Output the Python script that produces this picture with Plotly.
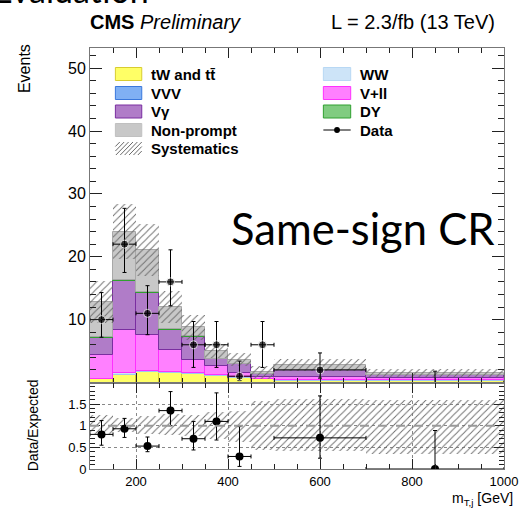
import plotly.graph_objects as go
import numpy as np

# ---------------- data ----------------
bin_lo = [100, 150, 200, 250, 300, 350, 400, 450, 500, 700]
bin_hi = [150, 200, 250, 300, 350, 400, 450, 500, 700, 1000]

tw_tt     = [0.50, 1.20, 1.60, 1.45, 1.30, 1.00, 0.70, 0.50, 0.30, 0.30]
ww        = [0.05, 0.25, 0.25, 0.20, 0.20, 0.20, 0.10, 0.10, 0.10, 0.05]
vvv       = [0.02, 0.05, 0.05, 0.05, 0.05, 0.05, 0.05, 0.03, 0.03, 0.02]
v_ll      = [3.83, 6.90, 5.70, 3.40, 2.05, 1.45, 0.60, 0.30, 0.50, 0.40]
v_gamma   = [2.60, 7.70, 6.70, 3.30, 3.70, 1.05, 1.55, 0.40, 1.00, 0.35]
dy        = [0.20, 0.15, 0.05, 0.10, 0.02, 0.02, 0.00, 0.00, 0.00, 0.00]
nonprompt = [5.60, 7.75, 6.75, 3.50, 1.48, 1.23, 0.60, 0.27, 0.87, 0.40]
syst      = [3.30, 4.40, 4.10, 2.60, 2.00, 1.10, 1.05, 1.10, 0.95, 0.60]

data_x      = [125, 175, 225, 275, 325, 375, 425, 475, 600, 850]
data_y      = [10, 22, 11, 16, 6, 6, 1, 6, 2, 0]
data_err_up = [4.3, 5.7, 4.4, 5.1, 3.7, 3.7, 2.4, 3.7, 2.7, 1.8]
data_err_dn = [2.8, 4.5, 3.4, 3.8, 3.6, 3.6, 0.7, 3.6, 1.3, 0.0]

ratio_y      = [0.80, 0.93, 0.53, 1.35, 0.70, 1.10, 0.29, None, 0.72, 0.0]
ratio_err_up = [0.32, 0.24, 0.21, 0.44, 0.40, 0.66, 0.69, None, 0.97, 0.89]
ratio_err_dn = [0.25, 0.20, 0.13, 0.35, 0.26, 0.43, 0.23, None, 0.47, 0.0]
band_hi = [1.27, 1.19, 1.24, 1.28, 1.26, 1.32, 1.36, 1.59, 1.62, 1.60]
band_lo = [0.82, 0.86, 0.82, 0.79, 0.77, 0.71, 0.64, 0.45, 0.42, 0.36]

x_ticks = [200, 400, 600, 800, 1000]
y_ticks = [10, 20, 30, 40, 50]
r_ticks = [0, 0.5, 1, 1.5]
r_ticktext = ["0", "0.5", "1", "1.5"]

# ---------------- derived ----------------
lo = np.array(bin_lo, float)
hi = np.array(bin_hi, float)
centers = (lo + hi) / 2
widths = hi - lo
data_xerr = [c - l for c, l in zip(centers, lo)]

components = [
    ("tW and tt\u0304", tw_tt, "#ffff66", "#d8cc30"),
    ("WW", ww, "#cde4f8", "#9fc8ee"),
    ("VVV", vvv, "#80b0f4", "#3a78dc"),
    ("V+ll", v_ll, "#ff80ff", "#ff30ff"),
    ("V\u03b3", v_gamma, "#b07cc8", "#7a2ea0"),
    ("DY", dy, "#80cc80", "#30a030"),
    ("Non-prompt", nonprompt, "#c8c8c8", "#a8a8a8"),
]

fig = go.Figure()
base = np.zeros(len(bin_lo))
for name, vals, fill, line in components:
    v = np.array(vals, float)
    fig.add_trace(go.Bar(x=centers, y=v, base=base.copy(), width=widths,
                         marker=dict(color=fill, line=dict(color=line, width=1)),
                         xaxis="x", yaxis="y", showlegend=False, name=name))
    base = base + v
total = base
s = np.array(syst, float)
hatch = dict(shape="/", size=5, solidity=0.18, fgcolor="#6a6a6a",
             bgcolor="rgba(0,0,0,0)", fillmode="replace")
fig.add_trace(go.Bar(x=centers, y=2 * s, base=total - s, width=widths,
                     marker=dict(color="rgba(0,0,0,0)", pattern=hatch, line=dict(width=0)),
                     xaxis="x", yaxis="y", showlegend=False))

# points sitting at zero are hidden under the frame in the upper panel
main_sizes = [8 if v > 0 else 0 for v in data_y]
fig.add_trace(go.Scatter(
    x=data_x, y=data_y, mode="markers", xaxis="x", yaxis="y", showlegend=False,
    marker=dict(color="black", size=main_sizes),
    error_y=dict(type="data", symmetric=False, array=data_err_up, arrayminus=data_err_dn,
                 color="black", thickness=1, width=2),
    error_x=dict(type="data", array=data_xerr, color="black", thickness=1, width=2)))

# ratio panel
bh = np.array(band_hi, float)
bl = np.array(band_lo, float)
fig.add_trace(go.Bar(x=centers, y=bh - bl, base=bl, width=widths,
                     marker=dict(color="rgba(0,0,0,0)", pattern=hatch, line=dict(width=0)),
                     xaxis="x2", yaxis="y2", showlegend=False))
fig.add_trace(go.Scatter(
    x=data_x, y=ratio_y, mode="markers", xaxis="x2", yaxis="y2", showlegend=False,
    marker=dict(color="black", size=8),
    error_y=dict(type="data", symmetric=False, array=ratio_err_up, arrayminus=ratio_err_dn,
                 color="black", thickness=1, width=2),
    error_x=dict(type="data", array=data_xerr, color="black", thickness=1, width=2)))

# ---------------- layout ----------------
W, H = 530, 510
L, R, T, B = 90, 514, 48, 469
split = 382.5
d = (B - split) / (B - T)

def px(x):
    return (x - L) / (R - L)

def py(y):
    return (B - y) / (B - T)

FONT = "Liberation Sans, Arial, sans-serif"
axcol = "#777"
tickcol = "#222"

common_x = dict(range=[100, 1000], showline=True, linecolor=axcol, linewidth=1,
                mirror="allticks", ticks="inside", ticklen=10, tickcolor=tickcol,
                tick0=0, dtick=200, zeroline=False,
                minor=dict(ticks="inside", dtick=50, tick0=0, ticklen=5, tickcolor=tickcol))

fig.update_layout(
    width=W, height=H, margin=dict(l=L, r=W - R, t=T, b=H - B),
    paper_bgcolor="white", plot_bgcolor="white", barmode="overlay", bargap=0,
    font=dict(family=FONT, color="black"),
    xaxis=dict(**common_x, domain=[0, 1], anchor="y", showticklabels=False,
               showgrid=False, matches="x2"),
    yaxis=dict(domain=[d, 1], range=[0, 53.2], anchor="x", showline=True, linecolor=axcol,
               mirror="allticks", ticks="inside", ticklen=12, tickcolor=tickcol,
               tickvals=y_ticks, showgrid=False, zeroline=False,
               tickfont=dict(size=16, family=FONT),
               minor=dict(ticks="inside", dtick=2, tick0=0, ticklen=6, tickcolor=tickcol)),
    xaxis2=dict(**common_x, domain=[0, 1], anchor="y2", tickvals=x_ticks,
                showgrid=True, gridcolor="#888", griddash="dot", gridwidth=1,
                tickfont=dict(size=13, family=FONT)),
    yaxis2=dict(domain=[0, d], range=[0, 2.0], anchor="x2", showline=True, linecolor=axcol,
                mirror="allticks", ticks="inside", ticklen=10, tickcolor=tickcol,
                tickvals=r_ticks, ticktext=r_ticktext, showgrid=True, gridcolor="#888",
                griddash="dot", gridwidth=1, zeroline=False,
                tickfont=dict(size=13, family=FONT),
                minor=dict(ticks="inside", dtick=0.1, tick0=0, ticklen=5, tickcolor=tickcol)),
)

# unity line in ratio panel
fig.add_shape(type="line", xref="x2", yref="y2", x0=100, x1=1000, y0=1, y1=1,
              line=dict(color="#999", width=2, dash="dash"))

ann = []
ann.append(dict(text="<b>CMS</b> <i>Preliminary</i>", x=px(88), y=py(22), xref="paper", yref="paper",
                xanchor="left", yanchor="middle", showarrow=False, font=dict(size=20, family=FONT)))
ann.append(dict(text="L = 2.3/fb (13 TeV)", x=px(507), y=py(22), xref="paper", yref="paper",
                xanchor="right", yanchor="middle", showarrow=False, font=dict(size=20, family=FONT)))
ann.append(dict(text="Events", x=px(23), y=py(42), xref="paper", yref="paper", textangle=-90,
                xanchor="center", yanchor="top", showarrow=False, font=dict(size=16, family=FONT)))
ann.append(dict(text="Data/Expected", x=px(32), y=py(425), xref="paper", yref="paper", textangle=-90,
                xanchor="center", yanchor="middle", showarrow=False, font=dict(size=14, family=FONT)))
ann.append(dict(text="m<sub>T,j</sub> [GeV]", x=px(525), y=py(499), xref="paper", yref="paper",
                xanchor="right", yanchor="middle", showarrow=False, font=dict(size=14, family=FONT)))
ann.append(dict(text="Same-sign CR", x=px(232), y=py(228), xref="paper", yref="paper",
                xanchor="left", yanchor="middle", showarrow=False, font=dict(size=43.5, family="Lato")))
ann.append(dict(text="Evaluation", x=px(152), y=py(12), xref="paper", yref="paper",
                xanchor="right", yanchor="bottom", showarrow=False, font=dict(size=34, family="Lato")))

# legend (drawn manually)
legend_left = [("tW and tt\u0304", "#ffff66", "#d8cc30"), ("VVV", "#80b0f4", "#3a78dc"),
               ("V\u03b3", "#b07cc8", "#7a2ea0"), ("Non-prompt", "#c8c8c8", "#c0c0c0")]
legend_right = [("WW", "#cde4f8", "#b8d8f4"), ("V+ll", "#ff80ff", "#ff30ff"),
                ("DY", "#80cc80", "#30a030")]
rows = [74, 93, 111.5, 130, 148.5]
shapes = []
for i, (lab, fc, lc) in enumerate(legend_left):
    y = rows[i]
    shapes.append(dict(type="rect", xref="paper", yref="paper", x0=px(116), x1=px(143),
                       y0=py(y + 6.5), y1=py(y - 6.5), fillcolor=fc, line=dict(color=lc, width=1)))
    ann.append(dict(text="<b>%s</b>" % lab, x=px(150), y=py(y), xref="paper", yref="paper",
                    xanchor="left", yanchor="middle", showarrow=False, font=dict(size=15, family=FONT)))
for i, (lab, fc, lc) in enumerate(legend_right):
    y = rows[i]
    shapes.append(dict(type="rect", xref="paper", yref="paper", x0=px(329), x1=px(357),
                       y0=py(y + 6.5), y1=py(y - 6.5), fillcolor=fc, line=dict(color=lc, width=1)))
    ann.append(dict(text="<b>%s</b>" % lab, x=px(364), y=py(y), xref="paper", yref="paper",
                    xanchor="left", yanchor="middle", showarrow=False, font=dict(size=15, family=FONT)))
# Data entry
yd = rows[3]
shapes.append(dict(type="line", xref="paper", yref="paper", x0=px(329), x1=px(357),
                   y0=py(yd), y1=py(yd), line=dict(color="black", width=1)))
shapes.append(dict(type="circle", xref="paper", yref="paper", x0=px(340), x1=px(346),
                   y0=py(yd + 3), y1=py(yd - 3), fillcolor="black", line=dict(color="black", width=0)))
ann.append(dict(text="<b>Data</b>", x=px(364), y=py(yd), xref="paper", yref="paper",
                xanchor="left", yanchor="middle", showarrow=False, font=dict(size=15, family=FONT)))
# Systematics entry (hatched swatch)
ys = rows[4]
x0s, x1s, y0s, y1s = 116, 143, ys - 6.5, ys + 6.5
path = ""
step = 4.5
k = x0s - (y1s - y0s)
while k < x1s:
    h = y1s - y0s
    xa, ya = k, y1s
    xb, yb = k + h, y0s
    if xa < x0s:
        ya = y1s - (x0s - xa)
        xa = x0s
    if xb > x1s:
        yb = y0s + (xb - x1s)
        xb = x1s
    if xb > xa:
        path += "M%.4f,%.4f L%.4f,%.4f " % (px(xa), py(ya), px(xb), py(yb))
    k += step
shapes.append(dict(type="path", xref="paper", yref="paper", path=path,
                   line=dict(color="#6a6a6a", width=1)))
ann.append(dict(text="<b>Systematics</b>", x=px(150), y=py(ys), xref="paper", yref="paper",
                xanchor="left", yanchor="middle", showarrow=False, font=dict(size=15, family=FONT)))

fig.update_layout(annotations=ann)
for sh in shapes:
    fig.add_shape(**sh)

fig.write_html("out.html")
